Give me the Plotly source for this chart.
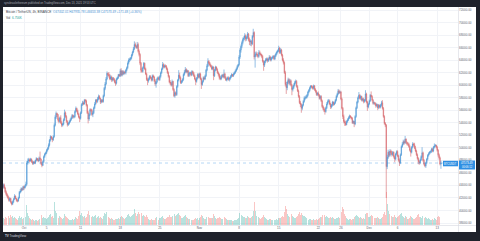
import pandas as pd
import plotly.graph_objects as go

# ---------------------------------------------------------------------------
# BTCUSDT 4h candles (Binance), 27 Sep 2021 08:00 UTC -> 13 Dec 2021 16:00 UTC
# prices in thousands of USDT, one row per day (00-04, 04-08, ... 20-24 UTC)
# ---------------------------------------------------------------------------
first_open_k = 43.7

close_k = [
    44.1, 43.6, 43.0, 42.6,                      # Sep 27
    42.3, 42.0, 41.6, 41.9, 41.3, 41.0,          # Sep 28
    41.4, 41.8, 42.3, 41.9, 41.6, 41.5,          # Sep 29
    42.0, 42.9, 43.1, 43.5, 43.3, 43.8,          # Sep 30
    43.6, 43.9, 44.2, 47.6, 47.9, 48.1,          # Oct 1
    47.9, 48.2, 47.8, 47.5, 47.7, 47.6,
    48.0, 48.3, 48.1, 47.9, 48.4, 48.2,
    47.5, 47.2, 47.8, 48.6, 49.0, 49.2,
    49.6, 49.9, 50.4, 51.2, 51.8, 51.5,          # Oct 5
    51.3, 51.8, 53.6, 54.9, 55.5, 55.3,
    54.5, 54.2, 54.8, 54.0, 53.6, 53.8,
    54.5, 55.6, 55.0, 54.2, 53.7, 53.9,
    54.2, 54.5, 54.8, 55.2, 54.9, 55.0,
    55.8, 56.3, 55.9, 55.4, 54.9, 54.7,          # Oct 10
    55.6, 56.9, 57.2, 57.0, 57.6, 57.5,
    56.8, 55.6, 54.6, 55.3, 56.1, 56.0,
    55.3, 55.6, 56.4, 57.0, 57.6, 57.4,
    57.8, 58.2, 57.9, 57.3, 57.6, 57.4,
    58.3, 59.5, 60.2, 61.0, 61.9, 61.7,          # Oct 15
    61.5, 61.0, 61.3, 60.8, 61.1, 60.9,
    60.5, 60.3, 61.0, 61.2, 61.7, 61.5,
    62.3, 61.6, 62.2, 61.8, 62.1, 62.0,
    62.4, 62.8, 63.5, 64.0, 64.1, 64.3,
    64.8, 65.3, 65.8, 66.5, 66.2, 66.0,          # Oct 20
    66.5, 65.4, 64.9, 63.5, 62.4, 62.2,
    62.8, 63.5, 62.6, 61.8, 60.9, 60.7,
    61.0, 61.4, 61.2, 60.8, 61.5, 61.3,
    60.7, 60.2, 60.5, 61.0, 61.2, 60.9,
    61.4, 62.0, 62.6, 63.3, 62.9, 63.1,          # Oct 25
    63.0, 62.6, 62.0, 61.4, 60.5, 60.3,
    60.0, 60.6, 59.3, 58.3, 58.8, 58.5,
    59.8, 60.8, 61.6, 61.2, 60.4, 60.6,
    60.9, 61.7, 62.1, 62.5, 62.1, 62.3,
    61.5, 61.9, 62.0, 61.6, 62.2, 61.9,          # Oct 30
    61.5, 61.0, 60.6, 61.1, 61.7, 61.3,
    61.8, 61.0, 60.1, 60.6, 61.2, 61.0,          # Nov 1
    61.5, 62.4, 63.1, 63.8, 63.5, 63.2,
    63.0, 62.6, 62.9, 61.5, 62.4, 62.9,
    62.5, 62.0, 61.7, 61.2, 61.0, 61.4,
    61.6, 61.3, 61.8, 61.2, 60.8, 61.0,          # Nov 5
    61.2, 60.9, 61.1, 61.4, 61.7, 61.5,
    61.8, 62.0, 62.3, 62.6, 63.0, 63.3,
    64.5, 65.6, 66.2, 66.8, 67.3, 67.5,
    67.9, 67.4, 67.6, 68.2, 67.3, 66.9,
    67.0, 66.6, 67.8, 68.4, 64.5, 64.9,          # Nov 10
    65.0, 64.8, 64.6, 65.2, 65.0, 64.9,
    64.6, 63.8, 63.2, 63.8, 64.0, 64.2,
    63.9, 64.2, 64.5, 64.0, 64.3, 64.4,
    64.6, 64.2, 64.7, 65.0, 65.3, 65.5,
    65.9, 65.2, 65.6, 64.8, 64.0, 63.6,          # Nov 15
    62.0, 60.1, 59.6, 60.5, 60.9, 60.3,
    60.7, 60.0, 59.3, 59.6, 60.0, 60.4,
    60.6, 59.8, 59.1, 58.2, 57.2, 56.9,
    56.3, 56.8, 57.4, 57.9, 58.0, 58.1,
    58.4, 58.9, 59.2, 59.6, 59.9, 59.7,          # Nov 20
    59.5, 59.9, 59.3, 59.0, 58.5, 58.7,
    58.4, 57.9, 58.2, 57.5, 56.6, 56.3,
    56.0, 55.8, 56.4, 57.0, 57.4, 57.5,
    57.0, 56.5, 56.8, 57.3, 56.9, 57.2,
    57.6, 58.2, 58.6, 59.1, 58.8, 58.9,          # Nov 25
    57.8, 56.3, 55.0, 54.2, 54.0, 53.7,
    54.2, 54.5, 54.8, 55.1, 54.9, 54.7,
    54.0, 54.2, 53.8, 55.0, 56.4, 57.3,
    58.0, 58.4, 57.9, 58.2, 57.6, 57.8,
    57.4, 57.6, 58.6, 57.3, 56.5, 57.0,          # Nov 30
    57.5, 58.4, 58.2, 57.6, 57.1, 57.2,          # Dec 1
    57.0, 56.7, 56.9, 56.4, 56.8, 56.5,
    56.8, 57.2, 56.3, 55.0, 53.9, 53.6,
    47.0, 48.5, 49.3, 48.8, 49.5, 49.2,
    48.9, 49.3, 48.6, 48.2, 49.0, 49.4,          # Dec 5
    48.7, 48.0, 47.6, 48.9, 50.2, 50.6,
    51.0, 50.8, 51.4, 50.9, 50.6, 50.6,
    50.2, 49.6, 49.3, 50.1, 50.6, 50.5,
    50.0, 49.5, 48.9, 48.3, 47.8, 47.6,
    48.1, 48.6, 49.2, 48.0, 47.4, 47.1,          # Dec 10
    47.6, 48.2, 48.8, 49.1, 49.3, 49.4,
    49.8, 49.5, 50.1, 50.3, 50.4, 50.1,
    49.6, 48.9, 48.4, 47.40201, 47.57349,        # Dec 13
]

high_k = [
    44.3, 44.3, 43.8, 43.2,
    42.8, 42.5, 42.2, 42.1, 42.0, 41.5,
    41.6, 42.0, 42.6, 42.4, 42.0, 41.8,
    42.2, 43.1, 43.4, 43.7, 43.6, 43.9,
    44.0, 44.1, 44.6, 47.9, 48.3, 48.4,
    48.3, 48.4, 48.3, 48.0, 47.9, 47.9,
    48.1, 48.5, 48.4, 48.3, 48.6, 49.4,
    48.3, 47.7, 48.0, 48.8, 49.2, 49.4,
    49.8, 50.1, 50.7, 51.4, 52.0, 51.9,
    51.7, 52.0, 53.9, 55.2, 55.8, 55.6,
    55.4, 54.8, 55.0, 55.2, 54.3, 54.0,
    54.7, 56.1, 55.8, 55.2, 54.4, 54.1,
    54.4, 54.7, 55.0, 55.4, 55.3, 55.2,
    56.0, 56.6, 56.4, 56.1, 55.6, 55.1,
    55.8, 57.1, 57.5, 57.4, 57.8, 57.8,
    57.7, 57.0, 55.9, 55.5, 56.3, 56.3,
    56.2, 55.9, 56.6, 57.3, 57.8, 57.8,
    58.1, 58.5, 58.4, 58.0, 57.8, 57.8,
    58.5, 59.7, 60.5, 61.3, 62.2, 62.0,
    62.1, 61.8, 61.6, 61.5, 61.3, 61.3,
    61.1, 60.8, 61.2, 61.4, 61.8, 61.8,
    62.6, 62.7, 62.4, 62.4, 62.3, 62.3,
    62.6, 63.0, 63.8, 64.3, 64.4, 64.5,
    65.0, 65.5, 66.1, 67.0, 66.8, 66.4,
    66.9, 66.8, 65.7, 65.1, 63.7, 62.8,
    63.0, 63.7, 63.6, 62.8, 62.0, 61.2,
    61.2, 61.6, 61.6, 61.3, 61.7, 61.7,
    61.5, 61.0, 60.7, 61.2, 61.4, 61.4,
    61.6, 62.2, 62.8, 63.7, 63.5, 63.3,
    63.3, 63.2, 62.8, 62.2, 61.6, 60.8,
    60.5, 60.9, 60.7, 59.5, 59.0, 59.0,
    60.0, 61.0, 62.4, 62.0, 61.4, 60.8,
    61.1, 61.9, 62.4, 62.9, 62.7, 62.5,
    62.4, 62.1, 62.2, 62.1, 62.4, 62.3,
    62.1, 61.7, 61.2, 61.3, 61.9, 61.9,
    62.0, 62.0, 61.2, 60.8, 61.4, 61.4,
    61.7, 62.6, 63.4, 64.3, 64.0, 63.7,
    63.4, 63.2, 63.1, 63.0, 62.6, 63.1,
    63.0, 62.7, 62.2, 61.9, 61.5, 61.6,
    61.8, 61.8, 62.5, 62.0, 61.4, 61.2,
    61.4, 61.4, 61.3, 61.6, 61.9, 61.8,
    62.0, 62.2, 62.5, 62.8, 63.2, 63.4,
    64.8, 65.9, 66.5, 67.1, 67.6, 67.8,
    68.3, 68.1, 67.9, 68.5, 68.3, 67.6,
    67.3, 67.2, 68.0, 69.0, 68.6, 65.3,
    65.4, 65.3, 65.0, 65.6, 65.5, 65.2,
    65.0, 64.8, 64.0, 63.9, 64.3, 64.4,
    64.4, 64.4, 64.8, 64.7, 64.5, 64.6,
    64.8, 64.8, 64.9, 65.2, 65.5, 65.7,
    66.3, 66.1, 65.9, 65.8, 65.0, 64.3,
    63.8, 62.3, 60.5, 60.7, 61.2, 61.1,
    61.0, 60.9, 60.2, 59.9, 60.3, 60.7,
    60.9, 60.8, 60.0, 59.3, 58.4, 57.5,
    57.1, 57.0, 57.6, 58.2, 58.3, 58.4,
    58.6, 59.1, 59.4, 59.8, 60.0, 60.0,
    59.9, 60.1, 60.0, 59.5, 59.2, 58.9,
    59.0, 58.6, 58.4, 58.4, 57.7, 56.8,
    56.5, 56.2, 56.6, 57.3, 57.7, 57.8,
    57.7, 57.2, 57.0, 57.5, 57.4, 57.4,
    57.8, 58.4, 58.8, 59.4, 59.3, 59.1,
    59.1, 58.0, 56.5, 55.3, 54.5, 54.3,
    54.4, 54.7, 55.0, 55.3, 55.2, 55.0,
    54.9, 54.4, 54.3, 55.2, 56.6, 57.5,
    58.2, 58.9, 58.6, 58.4, 58.3, 58.0,
    58.0, 57.8, 59.2, 58.8, 57.5, 57.2,
    57.7, 58.6, 59.0, 58.4, 57.8, 57.4,
    57.3, 57.2, 57.1, 57.0, 57.0, 56.9,
    57.0, 57.5, 57.6, 56.5, 55.2, 54.1,
    53.8, 48.9, 49.7, 49.5, 49.8, 49.7,
    49.5, 49.5, 49.4, 48.8, 49.2, 49.6,
    49.6, 48.9, 48.3, 49.1, 50.4, 50.9,
    51.3, 51.2, 51.9, 51.5, 51.0, 50.9,
    50.8, 50.4, 49.9, 50.3, 50.9, 50.8,
    50.8, 50.3, 49.7, 49.1, 48.5, 48.0,
    48.3, 48.8, 50.1, 49.4, 48.2, 47.6,
    47.8, 48.4, 49.0, 49.3, 49.5, 49.6,
    50.0, 50.0, 50.3, 50.7, 50.6, 50.5,
    50.3, 49.8, 49.1, 48.6, 47.93578,
]

low_k = [
    43.5, 43.4, 42.8, 42.4,
    42.1, 41.8, 41.4, 41.4, 41.1, 40.8,
    40.9, 41.2, 41.7, 41.8, 41.4, 41.3,
    41.4, 41.9, 42.7, 42.9, 43.1, 43.2,
    43.3, 43.5, 43.8, 44.0, 47.3, 47.6,
    47.7, 47.8, 47.6, 47.3, 47.3, 47.4,
    47.4, 47.8, 47.9, 47.7, 47.8, 48.0,
    47.3, 46.9, 47.1, 47.6, 48.4, 48.8,
    49.0, 49.4, 49.7, 50.2, 51.0, 51.3,
    50.9, 51.1, 51.6, 53.4, 54.6, 54.9,
    54.2, 53.9, 54.0, 53.8, 53.3, 53.4,
    53.6, 54.3, 54.8, 54.0, 53.4, 53.5,
    53.7, 54.0, 54.3, 54.6, 54.7, 54.7,
    54.8, 55.6, 55.7, 55.2, 54.7, 54.1,
    54.5, 55.4, 56.7, 56.8, 56.9, 57.2,
    56.6, 55.4, 53.9, 54.3, 55.1, 55.7,
    55.1, 54.9, 55.4, 56.2, 56.8, 57.1,
    57.2, 57.6, 57.7, 57.0, 57.1, 57.2,
    57.2, 58.1, 59.2, 60.0, 60.8, 61.4,
    61.2, 60.8, 60.8, 60.5, 60.6, 60.7,
    60.3, 59.9, 60.1, 60.8, 61.0, 61.3,
    61.3, 61.4, 61.4, 61.6, 61.6, 61.8,
    61.7, 62.2, 62.6, 63.3, 63.7, 63.9,
    64.1, 64.6, 65.1, 65.6, 66.0, 65.8,
    65.8, 65.2, 64.6, 63.2, 62.0, 62.0,
    62.0, 62.6, 62.4, 61.6, 60.7, 60.0,
    60.4, 60.8, 61.0, 60.6, 60.6, 61.1,
    60.5, 59.9, 59.6, 60.3, 60.8, 60.7,
    60.7, 61.2, 61.8, 62.4, 62.7, 62.7,
    62.8, 62.4, 61.8, 61.2, 60.3, 60.0,
    59.8, 59.8, 59.1, 58.1, 58.0, 58.3,
    58.3, 59.6, 60.6, 61.0, 60.2, 60.2,
    60.4, 60.7, 61.5, 61.9, 61.9, 61.9,
    61.3, 61.3, 61.7, 61.4, 61.5, 61.7,
    61.3, 60.8, 60.0, 60.4, 60.9, 61.1,
    61.1, 60.8, 59.4, 59.9, 60.4, 60.8,
    60.8, 61.3, 62.2, 62.9, 63.3, 63.0,
    62.8, 62.4, 62.4, 60.8, 61.3, 62.2,
    62.3, 61.8, 61.4, 60.9, 60.8, 60.8,
    61.2, 61.1, 61.1, 61.0, 60.7, 60.6,
    60.8, 60.7, 60.6, 60.9, 61.2, 61.3,
    61.3, 61.6, 61.8, 62.1, 62.4, 62.8,
    63.1, 64.2, 65.2, 65.9, 66.5, 67.0,
    67.2, 67.0, 67.1, 67.4, 67.0, 66.4,
    66.3, 66.2, 66.4, 67.6, 64.1, 62.8,
    64.6, 64.5, 64.3, 64.4, 64.8, 64.6,
    64.3, 63.6, 62.3, 62.9, 63.5, 63.8,
    63.6, 63.7, 64.0, 63.8, 63.8, 64.1,
    64.2, 64.0, 64.0, 64.5, 64.8, 65.1,
    65.3, 65.0, 65.0, 64.6, 63.8, 63.3,
    61.8, 59.8, 58.6, 59.2, 60.2, 60.0,
    60.0, 59.8, 58.4, 59.0, 59.4, 59.8,
    60.2, 59.6, 58.9, 58.0, 57.0, 56.5,
    55.6, 56.0, 56.6, 57.2, 57.6, 57.8,
    57.9, 58.2, 58.7, 59.0, 59.4, 59.5,
    59.3, 59.3, 59.1, 58.8, 58.3, 58.3,
    58.2, 57.7, 57.7, 57.3, 56.4, 56.0,
    55.7, 55.3, 55.6, 56.2, 56.8, 57.2,
    56.8, 56.2, 56.3, 56.6, 56.7, 56.8,
    57.0, 57.4, 58.0, 58.4, 58.6, 58.6,
    57.6, 56.1, 54.6, 53.9, 53.5, 53.5,
    53.6, 54.0, 54.3, 54.6, 54.7, 54.5,
    53.8, 53.8, 53.3, 53.6, 54.8, 56.2,
    57.1, 57.8, 57.7, 57.6, 57.4, 57.4,
    57.1, 57.2, 57.4, 57.1, 55.9, 56.3,
    56.8, 57.3, 58.0, 57.4, 56.9, 56.9,
    56.8, 56.4, 56.5, 56.0, 56.2, 56.3,
    56.3, 56.6, 56.1, 54.8, 53.7, 53.3,
    42.0, 46.6, 48.2, 48.5, 48.6, 48.9,
    48.6, 48.7, 48.3, 47.7, 48.0, 48.8,
    48.5, 47.8, 47.1, 47.4, 48.7, 50.0,
    50.4, 50.5, 50.6, 50.7, 50.4, 50.3,
    50.0, 49.4, 48.6, 49.1, 49.9, 50.2,
    49.8, 49.3, 48.7, 48.1, 47.4, 47.3,
    47.4, 47.9, 48.4, 47.8, 47.2, 46.9,
    46.8, 47.4, 48.0, 48.6, 48.9, 49.1,
    49.2, 49.3, 49.3, 49.9, 50.1, 49.9,
    49.4, 48.6, 48.1, 47.2, 46.65338,
]

# traded volume per candle, thousands of BTC
vol_k = [
    7.5, 6.8, 8.9, 7.2,
    6.1, 8.4, 9.6, 7.8, 10.2, 8.7,
    9.1, 7.4, 8.8, 7.9, 6.5, 5.8,
    6.9, 9.8, 7.6, 8.3, 6.4, 7.1,
    5.9, 6.6, 8.1, 21.5, 12.4, 9.3,
    7.4, 6.2, 5.5, 6.8, 5.1, 4.6,
    4.9, 5.3, 4.4, 5.8, 6.3, 7.9,
    8.6, 10.4, 7.7, 8.2, 6.9, 7.3,
    6.1, 7.5, 8.9, 10.7, 11.3, 8.1,
    9.4, 7.2, 23.8, 14.6, 12.5, 9.2,
    8.8, 7.6, 9.9, 8.5, 7.1, 6.3,
    7.4, 11.2, 9.6, 8.1, 7.8, 6.2,
    5.4, 4.9, 5.7, 6.2, 5.1, 4.8,
    6.6, 8.9, 7.2, 6.8, 9.5, 15.1,
    10.6, 12.8, 9.3, 8.2, 9.7, 7.5,
    8.8, 11.9, 14.3, 10.1, 8.4, 7.0,
    8.2, 9.1, 8.6, 9.8, 10.3, 7.4,
    8.1, 9.4, 7.7, 8.6, 6.9, 6.1,
    9.8, 12.7, 11.4, 13.9, 15.2, 10.6,
    8.9, 7.1, 6.4, 7.3, 5.9, 5.2,
    5.6, 6.8, 5.9, 6.2, 7.4, 6.1,
    8.7, 9.6, 8.1, 7.9, 7.2, 6.5,
    7.9, 8.5, 10.2, 11.6, 9.4, 8.3,
    9.1, 10.8, 11.5, 16.9, 12.3, 9.7,
    11.2, 13.6, 12.1, 19.8, 22.4, 12.6,
    9.8, 10.4, 9.1, 8.7, 10.9, 8.2,
    6.5, 5.8, 5.2, 6.1, 5.6, 4.9,
    5.2, 7.6, 8.3, 6.4, 5.7, 5.3,
    6.9, 7.8, 8.4, 9.6, 7.3, 6.2,
    6.8, 7.1, 8.2, 8.9, 10.6, 8.1,
    8.4, 9.2, 13.7, 18.6, 12.1, 9.4,
    10.2, 11.8, 12.9, 10.4, 9.1, 7.8,
    7.9, 8.7, 9.3, 10.1, 8.2, 6.9,
    6.2, 6.8, 5.9, 6.5, 5.4, 5.1,
    5.3, 6.1, 7.4, 6.6, 6.9, 5.8,
    7.2, 8.4, 10.7, 9.1, 7.5, 6.4,
    6.8, 8.2, 9.9, 10.6, 8.4, 7.1,
    7.4, 6.9, 7.8, 11.8, 9.2, 7.6,
    6.7, 7.3, 7.9, 8.6, 7.2, 6.5,
    5.9, 6.4, 8.8, 8.1, 7.4, 6.2,
    5.1, 4.8, 5.3, 5.6, 4.9, 4.5,
    4.6, 4.9, 5.2, 5.8, 6.3, 6.9,
    12.8, 11.4, 9.6, 10.2, 9.3, 8.1,
    8.6, 7.9, 7.4, 9.8, 8.7, 7.6,
    7.8, 8.4, 9.1, 14.7, 24.6, 15.2,
    9.6, 8.1, 7.4, 8.2, 7.6, 6.5,
    6.9, 8.4, 10.8, 8.9, 7.2, 6.3,
    5.6, 5.2, 5.9, 6.1, 5.4, 4.8,
    4.9, 5.4, 5.1, 5.8, 6.2, 5.7,
    7.8, 7.2, 6.9, 8.4, 9.6, 8.3,
    13.5, 19.6, 16.8, 11.9, 9.7, 8.4,
    8.1, 8.9, 11.2, 9.4, 8.6, 7.5,
    7.2, 8.4, 9.7, 11.3, 13.8, 10.6,
    12.4, 10.2, 9.3, 9.8, 8.1, 7.0,
    6.1, 6.7, 5.8, 6.4, 5.9, 5.2,
    5.4, 5.9, 5.6, 5.3, 6.2, 5.5,
    6.4, 7.8, 8.2, 8.9, 10.3, 9.2,
    9.6, 10.8, 8.7, 9.3, 8.4, 7.1,
    7.3, 8.1, 7.6, 8.4, 7.2, 6.3,
    6.4, 7.2, 7.9, 8.6, 7.1, 6.2,
    10.6, 14.2, 19.3, 16.4, 11.8, 9.6,
    7.8, 6.4, 5.8, 6.6, 5.9, 5.3,
    6.2, 5.9, 8.4, 9.7, 10.8, 11.6,
    9.4, 8.6, 7.9, 8.3, 7.4, 6.6,
    7.2, 6.8, 11.4, 12.6, 13.1, 8.9,
    8.4, 9.6, 10.3, 9.1, 8.2, 7.1,
    6.9, 7.4, 7.8, 8.6, 7.3, 6.5,
    6.8, 7.5, 8.9, 11.2, 13.6, 10.1,
    34.5, 21.8, 14.6, 11.2, 9.8, 8.4,
    9.6, 8.1, 8.7, 10.4, 8.9, 7.3,
    8.1, 9.2, 10.6, 11.3, 12.8, 9.4,
    8.9, 7.6, 9.8, 8.4, 7.2, 6.1,
    6.8, 7.9, 9.4, 8.6, 7.5, 6.4,
    6.6, 7.2, 8.8, 10.4, 11.2, 8.3,
    8.1, 7.6, 9.5, 10.7, 9.2, 7.8,
    8.4, 7.1, 6.5, 7.2, 6.1, 5.4,
    5.6, 6.2, 5.8, 6.9, 6.3, 5.8,
    8.7, 9.4, 8.1, 7.6, 6.756,
]

price_ticks = list(range(38000, 72001, 2000))
time_tick_dates = ["2021-10-01", "2021-10-05", "2021-10-11", "2021-10-18",
                   "2021-10-25", "2021-11-01", "2021-11-08", "2021-11-15",
                   "2021-11-22", "2021-11-26", "2021-12-01", "2021-12-06",
                   "2021-12-13"]
time_tick_text = ["Oct", "5", "11", "18", "25", "Nov", "8", "15", "22", "26",
                  "Dec", "6", "13"]

symbol_desc = "Bitcoin / TetherUS, 4h, BINANCE"
publish_note = "syncbrasilethereum published on TradingView.com, Dec 13, 2021 19:53 UTC"
bar_countdown = "00:06:12"

# ---------------------------------------------------------------------------
close = [v * 1000 for v in close_k]
open_ = [first_open_k * 1000] + close[:-1]
high = [max(h * 1000, o, c) for h, o, c in zip(high_k, open_, close)]
low = [min(l * 1000, o, c) for l, o, c in zip(low_k, open_, close)]
volume = [v * 1000 for v in vol_k]
times = pd.date_range("2021-09-27 08:00", periods=len(close), freq="4h")

UP_LINE, UP_FILL = "#4a93d4", "#7dbdec"
DN_LINE, DN_FILL = "#d5676b", "#f19c9d"
VOL_UP, VOL_DN = "rgba(38,166,154,0.33)", "rgba(239,83,80,0.33)"
BOX_BLUE = "#2f8fe3"
FRAME = "#1f222b"
AXIS_TXT = "#5d606b"
FONT = "Liberation Sans"

W, H = 480, 241
def px(x):
    return x / W
def py(y):
    return 1 - y / H

PL, PR, PT, PB = 3, 458, 7, 225          # plot pane edges (pixels)
AR, AB = 476, 232                        # outer edges of price / time scales

# time scale: 5.66 px per day, 1 Oct 00:00 at x = 24
oct1 = pd.Timestamp("2021-10-01")
x_start = oct1 + pd.Timedelta(days=(PL - 24) / 5.66)
x_end = oct1 + pd.Timedelta(days=(PR - 24) / 5.66)
# price scale: 72000 at y = 10, 38000 at y = 223
ppk = (223 - 10) / 34.0
y_top = 72000 + (10 - PT) / ppk * 1000
y_bot = 38000 - (PB - 223) / ppk * 1000

fig = go.Figure()

fig.add_trace(go.Bar(
    x=times, y=volume, yaxis="y2",
    marker=dict(color=[VOL_UP if c >= o else VOL_DN for o, c in zip(open_, close)],
                line=dict(width=0)),
    width=4 * 3600 * 1000 * 0.95, hoverinfo="skip",
))

fig.add_trace(go.Candlestick(
    x=times, open=open_, high=high, low=low, close=close,
    increasing=dict(line=dict(color=UP_LINE, width=0.6), fillcolor=UP_FILL),
    decreasing=dict(line=dict(color=DN_LINE, width=0.6), fillcolor=DN_FILL),
    whiskerwidth=0, hoverinfo="skip",
))

shapes = [
    # white chart card
    dict(type="rect", xref="paper", yref="paper", layer="below",
         x0=px(PL), x1=px(AR), y0=py(AB), y1=py(PT),
         fillcolor="white", line=dict(width=0)),
    # pane separators
    dict(type="line", xref="paper", yref="paper",
         x0=px(PR + 0.5), x1=px(PR + 0.5), y0=py(AB), y1=py(PT),
         line=dict(color="#d6d9e0", width=0.6)),
    dict(type="line", xref="paper", yref="paper",
         x0=px(PL), x1=px(AR), y0=py(PB + 0.5), y1=py(PB + 0.5),
         line=dict(color="#d6d9e0", width=0.6)),
    # last price line
    dict(type="line", xref="paper", yref="y",
         x0=px(PL), x1=px(PR), y0=close[-1], y1=close[-1],
         line=dict(color="rgba(47,143,227,0.5)", width=0.7, dash="dot")),
    # last price badges
    dict(type="rect", xref="paper", yref="paper",
         x0=px(PR + 1), x1=px(AR - 1), y0=py(169.5), y1=py(160.5),
         fillcolor=BOX_BLUE, line=dict(width=0)),
    dict(type="rect", xref="paper", yref="paper",
         x0=px(443), x1=px(PR), y0=py(166.3), y1=py(160.8),
         fillcolor=BOX_BLUE, line=dict(width=0)),
]

chg = close[-1] - open_[-1]
chg_pct = chg / open_[-1] * 100
sign = "+" if chg >= 0 else "\u2212"
val_color = UP_LINE if chg >= 0 else DN_LINE
legend_html = (
    f"<span style='color:#3c3f4a'>{symbol_desc}</span>  "
    f"<span style='color:{val_color}'>O{open_[-1]:.2f} H{high[-1]:.2f} "
    f"L{low[-1]:.2f} C{close[-1]:.2f} {sign}{abs(chg):.2f} ({sign}{abs(chg_pct):.2f}%)</span>"
)

def note(text, x, y, size, color, xanchor="left", yanchor="middle"):
    return dict(text=text, x=px(x), y=py(y), xref="paper", yref="paper",
                showarrow=False, xanchor=xanchor, yanchor=yanchor,
                font=dict(family=FONT, size=size, color=color))

annotations = [
    note(publish_note, 2, 3.4, 2.7, "#a9acb5"),
    note(legend_html, 3.5, 11.8, 3.1, "#3c3f4a"),
    note(f"<span style='color:#3c3f4a'>Vol</span>  "
         f"<span style='color:#26a69a'>{volume[-1] / 1000:.3f}K</span>",
         3.5, 17.8, 3.1, "#3c3f4a"),
    note(f"{close[-1]:.2f}", (PR + AR) / 2, 163.2, 2.8, "white", xanchor="center"),
    note(bar_countdown, (PR + AR) / 2, 167.2, 2.6, "white", xanchor="center"),
    note("BTCUSDT", (443 + PR) / 2, 163.6, 2.6, "white", xanchor="center"),
    note("<b>TV</b> TradingView", 3, 235.5, 3.0, "#d1d4dc"),
]

fig.update_layout(
    width=W, height=H, autosize=False,
    margin=dict(l=0, r=0, t=0, b=0, pad=0),
    paper_bgcolor=FRAME, plot_bgcolor="white",
    showlegend=False, hovermode=False, bargap=0,
    shapes=shapes, annotations=annotations,
    xaxis=dict(
        type="date", domain=[px(PL), px(PR)], range=[x_start, x_end],
        tickvals=pd.to_datetime(time_tick_dates), ticktext=time_tick_text,
        tickfont=dict(family=FONT, size=3, color=AXIS_TXT),
        ticks="", showline=False, zeroline=False,
        showgrid=True, gridcolor="#f1f3f7", gridwidth=0.5,
        rangeslider=dict(visible=False), fixedrange=True,
    ),
    yaxis=dict(
        domain=[py(PB), py(PT)], range=[y_bot, y_top], side="right",
        tickvals=price_ticks, ticktext=[f"{v:.2f}" for v in price_ticks],
        tickfont=dict(family=FONT, size=3, color=AXIS_TXT),
        ticks="", showline=False, zeroline=False,
        showgrid=True, gridcolor="#f1f3f7", gridwidth=0.5, fixedrange=True,
    ),
    yaxis2=dict(
        overlaying="y", range=[0, 230000], visible=False, fixedrange=True,
    ),
)

fig.write_html("out.html")
